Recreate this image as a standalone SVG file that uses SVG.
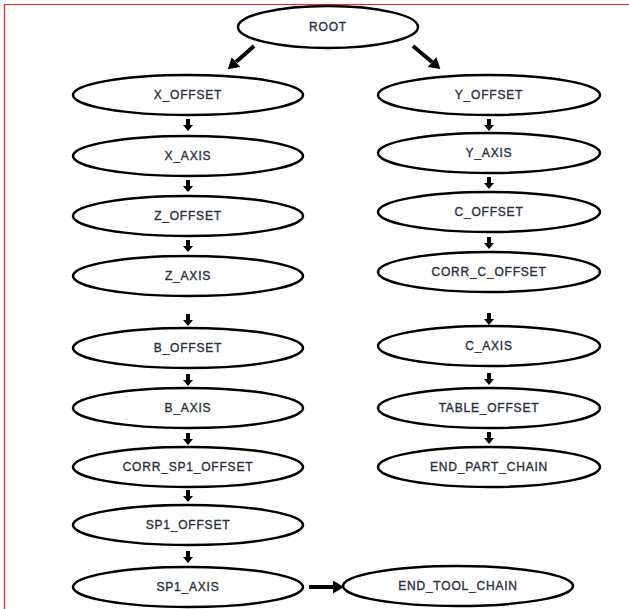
<svg xmlns="http://www.w3.org/2000/svg" width="629" height="609" viewBox="0 0 629 609">
<style>
.n ellipse{fill:#fff;stroke:#000;stroke-width:2.5}
.n text{font-family:"Liberation Sans",Arial,sans-serif;font-size:12px;fill:#2a3040;stroke:#2a3040;stroke-width:0.35;text-anchor:middle;letter-spacing:0.8px}
.c line{stroke:#000;stroke-width:4}
</style>
<defs>
<marker id="ah" viewBox="0 0 6 10" markerUnits="userSpaceOnUse" markerWidth="6" markerHeight="10" refX="0" refY="5" orient="auto"><path d="M0,0 L6,5 L0,10 z" fill="#000"/></marker>
<marker id="ahb" viewBox="0 0 11 13" markerUnits="userSpaceOnUse" markerWidth="11" markerHeight="13" refX="0" refY="6.5" orient="auto"><path d="M0,0 L11,6.5 L0,13 z" fill="#000"/></marker>
</defs>
<rect width="629" height="609" fill="#fff"/>
<path d="M4.5,609 V4.5 H629" fill="none" stroke="#ff2020" stroke-width="1.2"/>
<g class="c" id="connectors">
<line x1="254" y1="46" x2="236" y2="62" marker-end="url(#ahb)"/>
<line x1="413" y1="46" x2="432" y2="62" marker-end="url(#ahb)"/>
<line x1="188" y1="119" x2="188" y2="125" marker-end="url(#ah)"/>
<line x1="188" y1="180" x2="188" y2="186" marker-end="url(#ah)"/>
<line x1="188" y1="240" x2="188" y2="246" marker-end="url(#ah)"/>
<line x1="188" y1="314" x2="188" y2="320" marker-end="url(#ah)"/>
<line x1="188" y1="374" x2="188" y2="380" marker-end="url(#ah)"/>
<line x1="188" y1="433" x2="188" y2="439" marker-end="url(#ah)"/>
<line x1="188" y1="490" x2="188" y2="496" marker-end="url(#ah)"/>
<line x1="188" y1="551" x2="188" y2="557" marker-end="url(#ah)"/>
<line x1="489" y1="119" x2="489" y2="125" marker-end="url(#ah)"/>
<line x1="489" y1="177" x2="489" y2="183" marker-end="url(#ah)"/>
<line x1="489" y1="237" x2="489" y2="243" marker-end="url(#ah)"/>
<line x1="489" y1="313" x2="489" y2="319" marker-end="url(#ah)"/>
<line x1="489" y1="373" x2="489" y2="379" marker-end="url(#ah)"/>
<line x1="489" y1="432" x2="489" y2="438" marker-end="url(#ah)"/>
<line x1="309" y1="587" x2="333" y2="587" marker-end="url(#ahb)"/>
</g>
<g class="n" id="root"><ellipse cx="328" cy="27" rx="90" ry="21"/><text x="328" y="31">ROOT</text></g>
<g class="n" id="x_offset"><ellipse cx="188" cy="95" rx="115" ry="20"/><text x="188" y="99">X_OFFSET</text></g>
<g class="n" id="x_axis"><ellipse cx="188" cy="156" rx="115" ry="20"/><text x="188" y="160">X_AXIS</text></g>
<g class="n" id="z_offset"><ellipse cx="188" cy="216" rx="115" ry="20"/><text x="188" y="220">Z_OFFSET</text></g>
<g class="n" id="z_axis"><ellipse cx="188" cy="276" rx="115" ry="20"/><text x="188" y="280">Z_AXIS</text></g>
<g class="n" id="b_offset"><ellipse cx="188" cy="348" rx="115" ry="20"/><text x="188" y="352">B_OFFSET</text></g>
<g class="n" id="b_axis"><ellipse cx="188" cy="408" rx="115" ry="20"/><text x="188" y="412">B_AXIS</text></g>
<g class="n" id="corr_sp1_offset"><ellipse cx="188" cy="467" rx="115" ry="20"/><text x="188" y="471">CORR_SP1_OFFSET</text></g>
<g class="n" id="sp1_offset"><ellipse cx="188" cy="525" rx="115" ry="20"/><text x="188" y="529">SP1_OFFSET</text></g>
<g class="n" id="sp1_axis"><ellipse cx="188" cy="587" rx="115" ry="20"/><text x="188" y="591">SP1_AXIS</text></g>
<g class="n" id="end_tool_chain"><ellipse cx="458" cy="586" rx="115" ry="20"/><text x="458" y="590">END_TOOL_CHAIN</text></g>
<g class="n" id="y_offset"><ellipse cx="489" cy="95" rx="111" ry="20"/><text x="489" y="99">Y_OFFSET</text></g>
<g class="n" id="y_axis"><ellipse cx="489" cy="153" rx="111" ry="20"/><text x="489" y="157">Y_AXIS</text></g>
<g class="n" id="c_offset"><ellipse cx="489" cy="212" rx="111" ry="20"/><text x="489" y="216">C_OFFSET</text></g>
<g class="n" id="corr_c_offset"><ellipse cx="489" cy="272" rx="111" ry="20"/><text x="489" y="276">CORR_C_OFFSET</text></g>
<g class="n" id="c_axis"><ellipse cx="489" cy="346" rx="111" ry="20"/><text x="489" y="350">C_AXIS</text></g>
<g class="n" id="table_offset"><ellipse cx="489" cy="408" rx="111" ry="20"/><text x="489" y="412">TABLE_OFFSET</text></g>
<g class="n" id="end_part_chain"><ellipse cx="489" cy="467" rx="111" ry="20"/><text x="489" y="471">END_PART_CHAIN</text></g>
</svg>
